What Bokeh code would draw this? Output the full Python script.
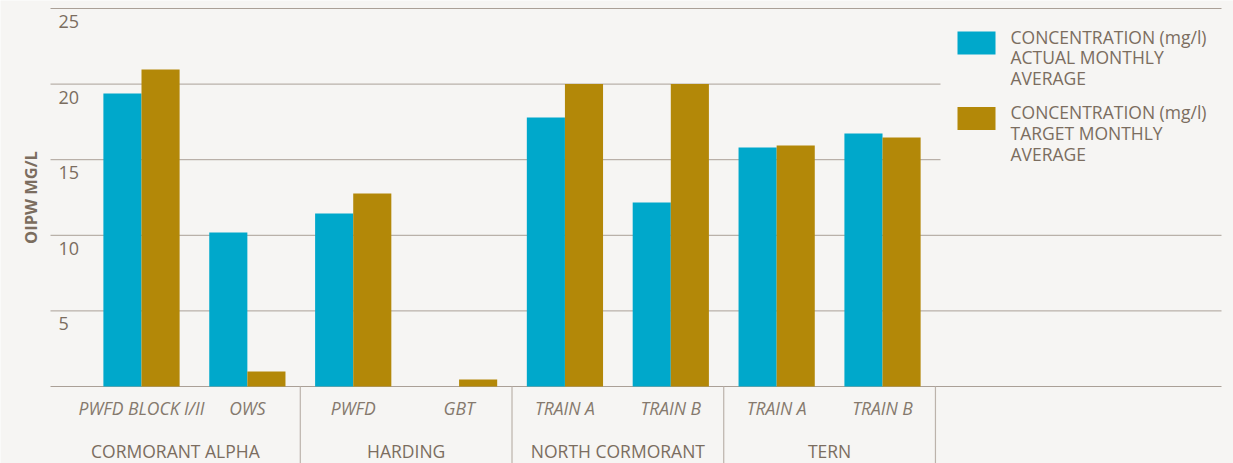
import numpy as np
from bokeh.plotting import figure
from bokeh.models import Range1d, ColumnDataSource
from bokeh.transform import dodge
from bokeh.core.properties import value
from bokeh.embed import file_html
from bokeh.resources import INLINE

# ---- data ----
groups = ["CORMORANT ALPHA", "HARDING", "NORTH CORMORANT", "TERN"]
group_sizes = [2, 2, 2, 2]
subcategories = ["PWFD BLOCK I/II", "OWS", "PWFD", "GBT", "TRAIN A", "TRAIN B", "TRAIN A", "TRAIN B"]
actual = [19.38, 10.19, 11.44, 0.0, 17.79, 12.17, 15.81, 16.73]
target = [20.97, 0.99, 12.76, 0.46, 20.0, 20.0, 15.94, 16.47]
y_ticks = [0, 5, 10, 15, 20, 25]
series_labels = ["CONCENTRATION (mg/l)\nACTUAL MONTHLY\nAVERAGE",
                 "CONCENTRATION (mg/l)\nTARGET MONTHLY\nAVERAGE"]
y_title = "OIPW MG/L"

# ---- style ----
BG = "#f6f5f3"
CYAN = "#00a8cb"
GOLD = "#b38808"
TEXT = "#7b6d5f"
SUBTEXT = "#85796d"
GRID = "#aaa097"
SEP = "#bcb3ab"
FONT = "Open Sans"
FS = "17.5px"

W, H = 1233, 463
# layout geometry (canvas pixels)
CAT_PX = 105.86          # pixels per category
FIRST_CENTER_PX = 141.0  # pixel of first category centre
ZERO_PX, PX_PER_UNIT = 386.0, 15.12
PLOT_LEFT_PX, PLOT_RIGHT_PX = 50.0, 1221.0
BASE_CORR = 6            # baseline correction of text rendering


def xpx(px):
    return 0.5 + (px - FIRST_CENTER_PX) / CAT_PX


def ypx(py):
    return (ZERO_PX - py) / PX_PER_UNIT


X_START, X_END = xpx(0), xpx(W)
Y_START, Y_END = ypx(H), ypx(0)
GX0, GX1 = xpx(PLOT_LEFT_PX), xpx(PLOT_RIGHT_PX)

n = len(subcategories)
centers = np.arange(n) + 0.5
bar_w = 0.36
off = bar_w / 2

p = figure(width=W, height=H,
           x_range=Range1d(X_START, X_END), y_range=Range1d(Y_START, Y_END),
           output_backend="svg", toolbar_location=None, min_border=0,
           background_fill_color=BG, border_fill_color=BG, outline_line_color=None)
p.xaxis.visible = False
p.yaxis.visible = False
p.xgrid.visible = False
p.ygrid.visible = False

# horizontal gridlines (incl. baseline at 0)
p.segment(x0=[GX0] * len(y_ticks), y0=y_ticks, x1=[GX1] * len(y_ticks), y1=y_ticks,
          line_color=GRID, line_width=1)

src = ColumnDataSource(dict(x=centers, actual=actual, target=target))
r_a = p.vbar(x=dodge("x", -off), top="actual", bottom=0, width=bar_w, source=src,
             fill_color=CYAN, line_color=None)
r_t = p.vbar(x=dodge("x", off), top="target", bottom=0, width=bar_w, source=src,
             fill_color=GOLD, line_color=None)

# sub-category labels
p.text(x=centers, y=[0] * n, text=subcategories, text_font=value(FONT),
       text_font_style="italic", text_font_size=FS, text_color=SUBTEXT,
       text_align="center", text_baseline="alphabetic", y_offset=27 - BASE_CORR)

# group separators and labels
bounds = np.cumsum(group_sizes).astype(float)
p.segment(x0=bounds, y0=[0] * len(bounds), x1=bounds, y1=[Y_START] * len(bounds),
          line_color=SEP, line_width=1.2)
starts = np.concatenate([[GX0], bounds[:-1]])
gx = (starts + bounds) / 2
p.text(x=gx, y=[0] * len(groups), text=groups, text_font=value(FONT),
       text_font_size=FS, text_color=TEXT, text_align="center",
       text_baseline="alphabetic", y_offset=70 - BASE_CORR)

# y tick labels (inside plot, under gridlines)
lab_ticks = [t for t in y_ticks if t > 0]
p.text(x=[GX0] * len(lab_ticks), y=lab_ticks, text=[str(t) for t in lab_ticks],
       text_font=value(FONT), text_font_size="18px", text_color=TEXT,
       text_align="left", text_baseline="alphabetic", x_offset=8, y_offset=19 - BASE_CORR)

# y axis title
p.text(x=[xpx(30)], y=[max(y_ticks) / 2], text=[y_title], angle=np.pi / 2,
       text_font=value(FONT), text_font_style="bold", text_font_size="16.5px",
       text_color=TEXT, text_align="center", text_baseline="middle")

# legend (box hides gridlines beneath it)
p.quad(left=[xpx(940)], right=[xpx(PLOT_RIGHT_PX + 1)], top=[ypx(16)], bottom=[ypx(186)],
       fill_color=BG, line_color=None)
leg_colors = [CYAN, GOLD]
leg_first_baseline = [42.0, 117.5]
LINE_PITCH = 20.8
for i, lab in enumerate(series_labels):
    base = leg_first_baseline[i]
    p.rect(x=[xpx(976)], y=[ypx(base + 0.5)], width=38, height=23,
           width_units="screen", height_units="screen",
           fill_color=leg_colors[i], line_color=None)
    lines = lab.split("\n")
    p.text(x=[xpx(1010)] * len(lines),
           y=[ypx(base + j * LINE_PITCH - BASE_CORR) for j in range(len(lines))],
           text=lines, text_font=value(FONT), text_font_size=FS, text_color=TEXT,
           text_align="left", text_baseline="alphabetic")

open("out.html", "w").write(file_html(p, INLINE))
